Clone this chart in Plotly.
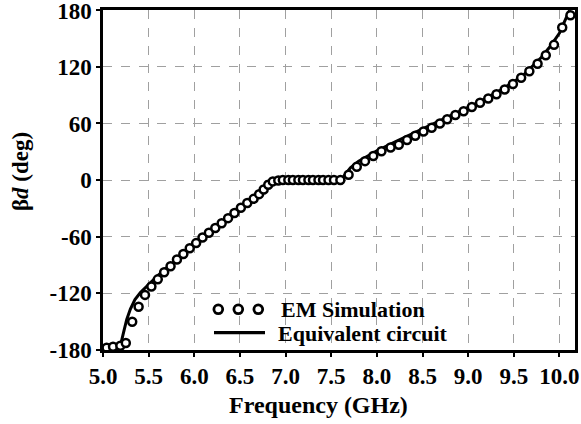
import plotly.graph_objects as go

# EM simulation (circles)
freq_em = [5.04, 5.11, 5.19, 5.25, 5.32, 5.39, 5.46, 5.53, 5.60, 5.67, 5.74, 5.81, 5.88, 5.95, 6.02,
           6.09, 6.16, 6.23, 6.30, 6.37, 6.44, 6.51, 6.58, 6.65, 6.71, 6.76, 6.81, 6.86,
           6.92, 6.97, 7.03, 7.08, 7.14, 7.19, 7.25, 7.30, 7.36, 7.41, 7.47, 7.53, 7.60,
           7.69, 7.78, 7.87, 7.96, 8.05, 8.15, 8.24, 8.33, 8.42, 8.51, 8.60, 8.69, 8.77, 8.86,
           8.95, 9.04, 9.13, 9.22, 9.31, 9.40, 9.49, 9.58, 9.67, 9.76, 9.85, 9.94, 10.03, 10.12]
beta_em = [-178, -177, -176, -173, -150.5, -134.5, -122, -113, -105.5, -98, -91.5, -84.5, -78.5, -72.5, -67,
           -61, -56, -51, -46, -40.5, -35, -29.5, -24.5, -20, -15, -10, -5, -1.5,
           -0.5, 0, 0, 0, 0, 0, 0, 0, 0, 0, 0, 0, 0,
           5.6, 14, 20, 25.5, 30.5, 34.5, 37.5, 42.5, 47, 51.5, 55.5, 60, 64.5, 69,
           73, 77.5, 82, 86.5, 91, 96, 102, 108.5, 115.5, 123.5, 132.5, 143.5, 162, 175]

# Equivalent circuit (solid line)
freq_ckt = [5.00, 5.10, 5.17, 5.20, 5.23, 5.26, 5.30, 5.35, 5.41, 5.50, 5.60, 5.70, 5.80, 5.90,
            6.00, 6.10, 6.20, 6.30, 6.40, 6.50, 6.60, 6.70, 6.78, 6.84, 6.90, 7.00, 7.20, 7.40,
            7.60, 7.63, 7.67, 7.71, 7.80, 7.90, 8.00, 8.20, 8.40, 8.60, 8.80, 9.00, 9.20, 9.40,
            9.60, 9.80, 9.90, 10.00, 10.05, 10.11]
beta_ckt = [-180, -180, -179, -172, -160, -148, -137, -127, -119.5, -110.5, -101.5, -93, -85, -77.5,
            -70, -62.5, -55, -47.5, -39.5, -31.5, -23.5, -15.5, -8.5, -2.5, -1, -0.5, 0, 0,
            0.5, 3, 8, 13, 20, 25.5, 31, 40.5, 49.5, 58.5, 67.5, 77, 87, 98,
            111, 130, 142, 156, 167, 180]

x_ticks = [5.0, 5.5, 6.0, 6.5, 7.0, 7.5, 8.0, 8.5, 9.0, 9.5, 10.0]
y_ticks = [-180, -120, -60, 0, 60, 120, 180]

legend_names = ["EM Simulation", "Equivalent circuit"]

W, H = 581, 424
ML, MR, MT, MB = 103, 6, 10, 74
PW, PH = W - ML - MR, H - MT - MB


def px(x):
    return (x - ML) / PW


def py(y):
    return (H - MB - y) / PH


FONT = "Liberation Serif, Times New Roman, serif"

fig = go.Figure()
fig.add_trace(go.Scatter(
    x=freq_ckt, y=beta_ckt, mode="lines", name=legend_names[1],
    line=dict(color="black", width=3), showlegend=False))
fig.add_trace(go.Scatter(
    x=freq_em, y=beta_em, mode="markers", name=legend_names[0],
    marker=dict(symbol="circle", size=8, color="white",
                line=dict(color="black", width=2.5)),
    cliponaxis=False, showlegend=False))

axis_common = dict(showline=True, linecolor="black", linewidth=2.5, mirror=True,
                   showgrid=True, gridcolor="#a0a0a0", gridwidth=1.3, griddash="dash",
                   ticks="outside", ticklen=4, tickwidth=1.5, tickcolor="black",
                   zeroline=False, ticklabeloverflow="allow", automargin=False,
                   tickfont=dict(family=FONT, size=23, color="black"))

fig.update_xaxes(range=[5.0, 10.17], tickmode="array", tickvals=x_ticks,
                 ticktext=["<b>%.1f</b>" % v for v in x_ticks], **axis_common)
fig.update_yaxes(range=[-180.5, 180.5], tickmode="array", tickvals=y_ticks,
                 ticktext=["<b>%d</b>" % v for v in y_ticks], **axis_common)

shapes = []
# legend: three open circles + line sample
for cx in [218.3, 238.3, 258.3]:
    r = 4.4
    shapes.append(dict(type="circle", xref="paper", yref="paper",
                       x0=px(cx - r), x1=px(cx + r), y0=py(309.3 + r), y1=py(309.3 - r),
                       line=dict(color="black", width=2.8), fillcolor="white"))
shapes.append(dict(type="line", xref="paper", yref="paper",
                   x0=px(214), x1=px(265), y0=py(332.7), y1=py(332.7),
                   line=dict(color="black", width=3.2)))

annotations = [
    dict(text="<b>" + legend_names[0] + "</b>", xref="paper", yref="paper",
         x=px(279), y=py(309), xanchor="left", yanchor="middle", showarrow=False,
         font=dict(family=FONT, size=22, color="black")),
    dict(text="<b>" + legend_names[1] + "</b>", xref="paper", yref="paper",
         x=px(276), y=py(333), xanchor="left", yanchor="middle", showarrow=False,
         font=dict(family=FONT, size=22, color="black")),
    dict(text="<b>Frequency (GHz)</b>", xref="paper", yref="paper",
         x=px(318), y=py(405), xanchor="center", yanchor="middle", showarrow=False,
         font=dict(family=FONT, size=24, color="black")),
    dict(text="<b>β<i>d</i> (deg)</b>", xref="paper", yref="paper",
         x=px(20), y=py(172), xanchor="center", yanchor="middle", showarrow=False,
         textangle=-90, font=dict(family=FONT, size=23, color="black")),
]

fig.update_layout(
    width=W, height=H,
    margin=dict(l=ML, r=MR, t=MT, b=MB, autoexpand=False),
    paper_bgcolor="white", plot_bgcolor="white",
    shapes=shapes, annotations=annotations,
    showlegend=False,
)

fig.write_html("out.html")
